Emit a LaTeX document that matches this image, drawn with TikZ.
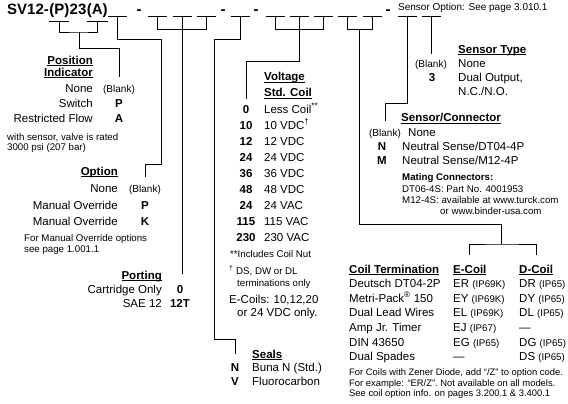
\documentclass[tikz,border=0pt]{standalone}
\usepackage{fontspec}
\setmainfont{Liberation Sans}
\usepackage{tikz}

\newcommand\undr[1]{{\setbox0=\hbox{#1}\rlap{\rule[-1.8pt]{\wd0}{0.8pt}}\box0}}
\newcommand\ipr[1]{{\fontsize{9.7}{11}\selectfont(#1)}}

\begin{document}
\begin{tikzpicture}[x=1pt, y=-1pt,
		every node/.style={inner sep=0pt, font=\fontsize{11.5}{13}\selectfont},
		hdr/.style={font=\fontsize{11.5}{13}\selectfont\bfseries},
		code/.style={font=\fontsize{11.5}{13}\selectfont\bfseries, anchor=base},
		note/.style={font=\fontsize{9.7}{11}\selectfont},
		blank/.style={font=\fontsize{10}{11}\selectfont, anchor=base},
		ttl/.style={font=\fontsize{15}{17}\selectfont\bfseries, anchor=base west},
		wire/.style={line width=0.9pt}]
		\useasboundingbox (0,0) rectangle (568,404);

		% model code
		\node[ttl] (t1) at (7,15) {SV12-};
		\node[ttl] (tP) at (t1.base east) {(P)};
		\node[ttl] (t2) at (tP.base east) {23};
		\node[ttl] (tA) at (t2.base east) {(A)};
		\draw[wire] ([yshift=-3pt]tP.south west) -- ([yshift=-3pt]tP.south east);
		\draw[wire] ([yshift=-3pt]tA.south west) -- ([yshift=-3pt]tA.south east);
		\foreach \n/\x in {s1/117.5, s2/157.5, s3/182, s4/206, s5/240, s6/275.5, s7/299.5, s8/323.5, s9/347.5, s10/372, s11/407, s12/431}
			\draw[wire] (\x-9.5,16) -- coordinate (\n) (\x+9.5,16);
		\foreach \n/\x in {d1/139, d2/223, d3/256, d4/388}
			\node[ttl, anchor=base] (\n) at (\x,15) {-};
		\node[anchor=base west, font=\fontsize{10}{12}\selectfont] (sopt) at (398,10.7) {Sensor Option: See page 3.010.1};

		% position indicator
		\node[hdr, anchor=base east] (pih1) at (93,64.3) {\undr{Position}};
		\node[hdr, anchor=base east] (pih2) at (93,76.3) {\undr{Indicator}};
		\node[anchor=base east] (pin) at (93,92.3) {None};
		\node[anchor=base east] (pis) at (93,107) {Switch};
		\node[anchor=base east] (pir) at (93,122) {Restricted Flow};
		\node[blank] (pib) at (119,92.3) {(Blank)};
		\node[code] (piP) at (119,107) {P};
		\node[code] (piA) at (119,122) {A};
		\node[note, anchor=base west] (pinote1) at (7,140.3) {with sensor, valve is rated};
		\node[note, anchor=base west] (pinote2) at (7,150.7) {3000 psi (207 bar)};

		% option
		\node[hdr, anchor=base east] (oph) at (118,175) {\undr{Option}};
		\node[anchor=base east] (opn) at (118,192) {None};
		\node[anchor=base east] (opp) at (118,209) {Manual Override};
		\node[anchor=base east] (opk) at (118,225) {Manual Override};
		\node[blank] (opb) at (145,192) {(Blank)};
		\node[code] (opP) at (145,209) {P};
		\node[code] (opK) at (145,225) {K};
		\node[note, anchor=base west] (opnote1) at (24,241) {For Manual Override options};
		\node[note, anchor=base west] (opnote2) at (24,252) {see page 1.001.1};

		% porting
		\node[hdr, anchor=base east] (pth) at (162,279) {\undr{Porting}};
		\node[anchor=base east] (ptc) at (162,293) {Cartridge Only};
		\node[anchor=base east] (pts) at (162,307.5) {SAE 12};
		\node[code] (pt0) at (180,293) {0};
		\node[code] (pt12) at (180,307.5) {12T};

		% voltage
		\node[hdr, anchor=base west] (vh1) at (264,81) {\undr{Voltage}};
		\node[hdr, anchor=base west] (vh2) at (264,96.5) {\undr{Std. Coil}};
		\foreach \c/\d [count=\i] in {0/Less Coil\textsuperscript{**}, 10/10 VDC\textsuperscript{†}, 12/12 VDC, 24/24 VDC, 36/36 VDC, 48/48 VDC, 24/24 VAC, 115/115 VAC, 230/230 VAC} {
			\node[code] (vc\i) at (246,{113.3+16*(\i-1)}) {\c};
			\node[anchor=base west] (vd\i) at (264,{113.3+16*(\i-1)}) {\d};
		}
		\node[note, anchor=base west] (vnote1) at (230,257) {**Includes Coil Nut};
		\node[note, anchor=base west] (vnote2) at (229,274) {\textsuperscript{†} DS, DW or DL};
		\node[note, anchor=base west] (vnote3) at (237,286.5) {terminations only};
		\node[anchor=base west] (vnote4) at (229,303.3) {E-Coils: 10,12,20};
		\node[anchor=base west] (vnote5) at (237,316.7) {or 24 VDC only.};

		% seals
		\node[hdr, anchor=base west] (sh) at (252,358.3) {\undr{Seals}};
		\node[code] (sN) at (235,371.7) {N};
		\node[anchor=base west] (sNd) at (252,371.7) {Buna N (Std.)};
		\node[code] (sV) at (235,385) {V};
		\node[anchor=base west] (sVd) at (252,385) {Fluorocarbon};

		% sensor type
		\node[hdr, anchor=base west] (sth) at (458,53.3) {\undr{Sensor Type}};
		\node[blank] (stb) at (431,67.7) {(Blank)};
		\node[anchor=base west] (stbd) at (458,67.7) {None};
		\node[code] (st3) at (432,81.7) {3};
		\node[anchor=base west] (st3d) at (458,81.7) {Dual Output,};
		\node[anchor=base west] (st3e) at (458,95.7) {N.C./N.O.};

		% sensor connector
		\node[hdr, anchor=base west] (sch) at (401,121.7) {\undr{Sensor/Connector}};
		\node[blank] (scb) at (385,136) {(Blank)};
		\node[anchor=base west] (scbd) at (408,136) {None};
		\node[code] (scN) at (382,150) {N};
		\node[anchor=base west] (scNd) at (402,150) {Neutral Sense/DT04-4P};
		\node[code] (scM) at (382,164) {M};
		\node[anchor=base west] (scMd) at (402,164) {Neutral Sense/M12-4P};
		\node[note, anchor=base west, font=\fontsize{9.7}{11}\selectfont\bfseries] (scnote1) at (402,180.7) {Mating Connectors:};
		\node[note, anchor=base west] (scnote2) at (402,192) {DT06-4S: Part No. 4001953};
		\node[note, anchor=base west] (scnote3) at (402,203) {M12-4S: available at www.turck.com};
		\node[note, anchor=base west] (scnote4) at (440,214.7) {or www.binder-usa.com};

		% coil termination
		\node[hdr, anchor=base west] (cth) at (349,273.3) {\undr{Coil Termination}};
		\node[hdr, anchor=base west] (ceh) at (453,273.3) {\undr{E-Coil}};
		\node[hdr, anchor=base west] (cdh) at (519,273.3) {\undr{D-Coil}};
		\foreach \t/\e/\d [count=\i] in {Deutsch DT04-2P/ER \ipr{IP69K}/DR \ipr{IP65}, Metri-Pack\textsuperscript{®} 150/EY \ipr{IP69K}/DY \ipr{IP65}, Dual Lead Wires/EL \ipr{IP69K}/DL \ipr{IP65}, Amp Jr. Timer/EJ \ipr{IP67}/\textemdash, DIN 43650/EG \ipr{IP65}/DG \ipr{IP65}, Dual Spades/\textemdash/DS \ipr{IP65}} {
			\node[anchor=base west] (ct\i) at (349,{287.3+14.7*(\i-1)}) {\t};
			\node[anchor=base west] (ce\i) at (453,{287.3+14.7*(\i-1)}) {\e};
			\node[anchor=base west] (cd\i) at (519,{287.3+14.7*(\i-1)}) {\d};
		}
		\node[note, anchor=base west, font=\fontsize{9.4}{11}\selectfont] (ctnote1) at (349,375) {For Coils with Zener Diode, add ``/Z'' to option code.};
		\node[note, anchor=base west, font=\fontsize{9.4}{11}\selectfont] (ctnote2) at (349,386) {For example: ``ER/Z''. Not available on all models.};
		\node[note, anchor=base west, font=\fontsize{9.4}{11}\selectfont] (ctnote3) at (349,396.7) {See coil option info. on pages 3.200.1 \& 3.400.1};

		% connectors
		\coordinate (pi) at (79,32);
		\draw[wire] ([yshift=-3pt]tP.south) |- (pi) -| ([yshift=-3pt]tA.south);
		\draw[wire, shorten >=8pt] (pi) |- (pib.north |- 0,48) -- (pib.north);
		\draw[wire, shorten >=8pt] (s1) |- ++(43.5,23) |- (opb.north |- 0,164) -- (opb.north);
		\draw[wire] (s2) -- ++(0,13) -| (s4);
		\draw[wire, shorten >=11pt] (s3) -- (s3 |- pt0.north);
		\draw[wire, shorten >=9.5pt] (s5) |- ++(-26,23) |- (sN.north |- 0,339) -- (sN.north);
		\draw[wire] (s6) -- ++(0,13) -| (s8);
		\draw[wire, shorten >=6pt] (s7) |- (vc1.north |- 0,61) -- (vc1.north);
		\draw[wire] (s9) -- ++(0,13) -| (s10);
		\coordinate (cl) at (359.5,29);
		\coordinate (cj) at (501,244);
		\draw[wire] (cl) |- (cj |- 0,224) -- (cj);
		\draw[wire, shorten <=10pt, shorten >=10pt] (ceh.north) |- (cj) -| (cdh.north);
		\draw[wire, shorten >=8pt] (s11) |- (scb.north |- 0,103) -- (scb.north);
		\draw[wire, shorten >=6pt] (s12) -- (stb.north);
	\end{tikzpicture}
\end{document}
